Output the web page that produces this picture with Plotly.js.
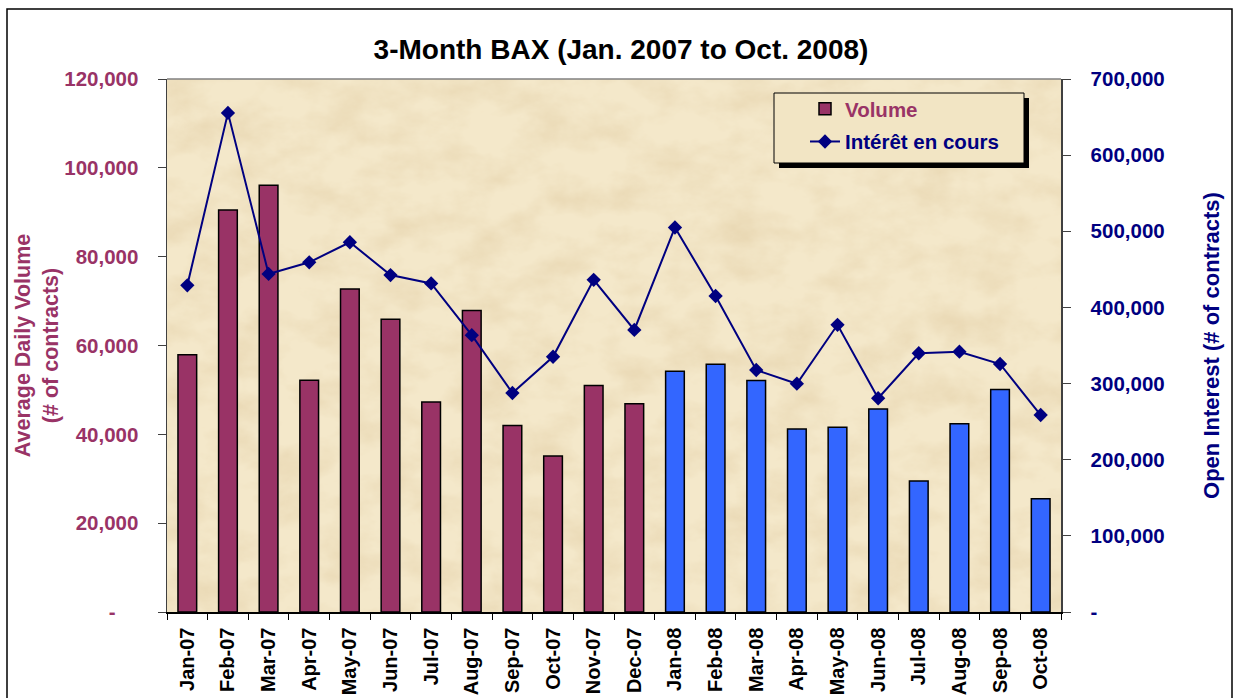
<!DOCTYPE html>
<html>
<head>
<meta charset="utf-8">
<script src="https://cdn.plot.ly/plotly-3.0.1.min.js"></script>
<style>html,body{margin:0;padding:0;background:#fff;}#chart{width:1238px;height:698px;}</style>
</head>
<body>
<div id="chart"></div>
<script>
// ---- data ----
const months = ['Jan-07','Feb-07','Mar-07','Apr-07','May-07','Jun-07','Jul-07','Aug-07','Sep-07','Oct-07','Nov-07','Dec-07',
                'Jan-08','Feb-08','Mar-08','Apr-08','May-08','Jun-08','Jul-08','Aug-08','Sep-08','Oct-08'];
const volume = [57900, 90500, 96100, 52200, 72700, 65900, 47300, 67900, 42000, 35100, 51000, 46900,
                54200, 55800, 52100, 41200, 41600, 45700, 29500, 42400, 50100, 25500];
const openInterest = [429000, 655500, 444000, 459300, 485600, 442500, 431500, 363500, 287600, 335200, 436300, 370400,
                      505000, 415000, 317800, 299800, 377200, 280700, 339800, 341900, 325700, 258700];
const leftTickVals = [0, 20000, 40000, 60000, 80000, 100000, 120000];
const leftTickText = ['-\u00a0\u00a0\u00a0\u00a0', '20,000', '40,000', '60,000', '80,000', '100,000', '120,000'];
const rightTickVals = [0, 100000, 200000, 300000, 400000, 500000, 600000, 700000];
const rightTickText = ['-', '100,000', '200,000', '300,000', '400,000', '500,000', '600,000', '700,000'];

// ---- styling ----
const PLUM = '#993366', BLUE = '#3366FF', NAVY = '#000080';
const FONT = 'Liberation Sans, Arial, sans-serif';
const barColors = months.map(m => m.endsWith('07') ? PLUM : BLUE);

// plot area in pixels
const L = 167, R = 1061, T = 79, B = 612, W = 1238, H = 698;
const px = x => (x - L) / (R - L);
const py = y => (B - y) / (B - T);

const svg = "<svg xmlns='http://www.w3.org/2000/svg' width='894' height='533'>" +
  "<filter id='f' x='0' y='0' width='100%' height='100%'>" +
  "<feTurbulence type='fractalNoise' baseFrequency='0.02 0.03' numOctaves='5' seed='11'/>" +
  "<feColorMatrix values='0 0 0 0 0.72  0 0 0 0 0.56  0 0 0 0 0.32  0.8 0 0 0 -0.3'/></filter>" +
  "<rect width='100%' height='100%' fill='#F4E8CA'/>" +
  "<rect width='100%' height='100%' filter='url(#f)'/></svg>";

const traces = [
  {
    type: 'bar', x: months, y: volume, name: '<span style="color:' + PLUM + '">Volume</span>',
    marker: {color: barColors, line: {color: '#000', width: 1.5}},
    width: 0.46, yaxis: 'y', legendgroup: 'a'
  },
  {
    type: 'scatter', mode: 'lines+markers', x: months, y: openInterest,
    name: '<span style="color:' + NAVY + '">Intérêt en cours</span>',
    line: {color: NAVY, width: 2}, marker: {symbol: 'diamond', size: 11, color: NAVY},
    yaxis: 'y2', legendgroup: 'b'
  }
];

const layout = {
  width: W, height: H,
  margin: {l: L, r: W - R, t: T, b: H - B, pad: 0},
  paper_bgcolor: '#ffffff', plot_bgcolor: '#EFE0BD',
  font: {family: FONT, size: 20, color: '#000', weight: 'bold'},
  showlegend: true,
  title: {text: '3-Month BAX (Jan. 2007 to Oct. 2008)', font: {family: FONT, size: 28, weight: 'bold', color: '#000'},
          x: 621 / W, xref: 'container', xanchor: 'center', y: 1 - 49 / H, yref: 'container', yanchor: 'middle'},
  xaxis: {
    type: 'category', range: [-0.5, months.length - 0.5], tickangle: -90, tickson: 'boundaries', ticks: 'outside',
    ticklen: 6, tickcolor: '#000', ticklabelstandoff: 6,
    showline: true, linecolor: '#000', linewidth: 1.5, showgrid: false, zeroline: false,
    tickfont: {family: FONT, size: 20, weight: 'bold', color: '#000'}
  },
  yaxis: {
    range: [0, 120000], tickvals: leftTickVals, ticktext: leftTickText, ticks: 'outside', ticklen: 8,
    tickcolor: '#404040', showline: true, linecolor: '#404040', linewidth: 1.5, showgrid: false, zeroline: false,
    tickfont: {family: FONT, size: 20.5, weight: 'bold', color: PLUM}, ticklabelstandoff: 15,
    title: {text: 'Average Daily Volume<br>(# of contracts)', font: {family: FONT, size: 21.5, weight: 'bold', color: PLUM}, standoff: 0}
  },
  yaxis2: {
    overlaying: 'y', side: 'right', range: [0, 700000], tickvals: rightTickVals, ticktext: rightTickText,
    ticks: 'outside', ticklen: 8, tickcolor: '#404040', showline: true, linecolor: '#404040', linewidth: 1.5,
    showgrid: false, zeroline: false, ticklabelstandoff: 16,
    tickfont: {family: FONT, size: 20.5, weight: 'bold', color: NAVY},
    title: {text: 'Open Interest (# of contracts)', font: {family: FONT, size: 22, weight: 'bold', color: NAVY}, standoff: 40}
  },
  legend: {
    x: px(805), y: py(89), xanchor: 'left', yanchor: 'top', bgcolor: 'rgba(0,0,0,0)', borderwidth: 0,
    font: {family: FONT, size: 20.5, weight: 'bold'}, tracegrouporder: 'normal', tracegroupgap: 3
  },
  images: [{
    source: 'data:image/svg+xml;charset=utf-8,' + encodeURIComponent(svg),
    xref: 'paper', yref: 'paper', x: 0, y: 1, sizex: 1, sizey: 1, sizing: 'stretch', layer: 'below'
  }],
  shapes: [
    // outer chart border
    {type: 'rect', xref: 'paper', yref: 'paper', x0: px(7), x1: px(1232), y0: py(720), y1: py(9),
     line: {color: '#000', width: 1.5}, fillcolor: 'rgba(0,0,0,0)', layer: 'above'},
    // plot area top border
    {type: 'line', xref: 'paper', yref: 'paper', x0: 0, x1: 1, y0: 1, y1: 1, line: {color: '#808080', width: 1.5}, layer: 'above'},
    // legend shadow and box
    {type: 'rect', xref: 'paper', yref: 'paper', x0: px(779), x1: px(1029), y0: py(168), y1: py(98),
     line: {width: 0}, fillcolor: '#000', layer: 'above'},
    {type: 'rect', xref: 'paper', yref: 'paper', x0: px(774), x1: px(1024), y0: py(163), y1: py(93),
     line: {color: '#000', width: 1}, fillcolor: '#F2E5C4', layer: 'above'}
  ]
};

Plotly.newPlot('chart', traces, layout, {displayModeBar: false, staticPlot: true});
</script>
</body>
</html>
